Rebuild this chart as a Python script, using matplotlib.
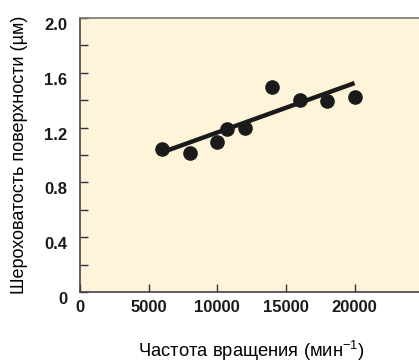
import matplotlib
matplotlib.use("Agg")
import matplotlib.pyplot as plt
from matplotlib.ticker import MultipleLocator
from matplotlib.transforms import ScaledTranslation

plt.rcParams['font.family'] = ['Liberation Sans', 'DejaVu Sans']

speed = [6000, 8000, 10000, 10700, 12000, 14000, 16000, 18000, 20000]
roughness = [1.045, 1.015, 1.095, 1.19, 1.20, 1.50, 1.40, 1.395, 1.425]
fit_x = [6000, 20000]
fit_y = [1.02, 1.525]
xticks = [0, 5000, 10000, 15000, 20000]
yticks = [0, 0.4, 0.8, 1.2, 1.6, 2.0]
yticklabels = ['0', '0.4', '0.8', '1.2', '1.6', '2.0']

fig = plt.figure(figsize=(4.19, 3.63), dpi=100)
ax = fig.add_axes([80/419, 1 - 292/363, 1 - 80/419 + 0.01, (292 - 18)/363])
ax.set_facecolor('#FEF4DA')

ax.plot(fit_x, fit_y, color='#1a1a1a', lw=3.2, solid_capstyle='butt', zorder=2)
ax.plot(speed, roughness, 'o', color='#1a1a1a', ms=9.5, zorder=3)

ax.set_xlim(0, 25000)
ax.set_ylim(0, 2.0)
ax.set_xticks(xticks)
ax.set_xticklabels([str(t) for t in xticks])
ax.set_yticks(yticks)
ax.set_yticklabels(yticklabels)
ax.yaxis.set_minor_locator(MultipleLocator(0.2))

ax.tick_params(axis='both', which='both', direction='in', colors='#333333',
               labelcolor='#1a1a1a')
ax.tick_params(axis='both', which='major', length=6, width=1, labelsize=12)
ax.tick_params(axis='y', which='minor', length=6, width=1)
ax.tick_params(axis='y', which='major', pad=9)
ax.tick_params(axis='x', which='major', pad=6)
off = ScaledTranslation(0, -6/100, fig.dpi_scale_trans)
for lab in ax.get_xticklabels() + ax.get_yticklabels():
    lab.set_fontweight('bold')
for lab in ax.get_yticklabels():
    lab.set_transform(lab.get_transform() + off)
ax.spines['right'].set_visible(False)
for s in ['left', 'bottom']:
    ax.spines[s].set_color('#444444')
    ax.spines[s].set_linewidth(1.2)
ax.spines['top'].set_color('#777777')
ax.spines['top'].set_linewidth(1.2)

ax.set_xlabel('Частота вращения (мин$^{\\mathregular{-1}}$)', fontsize=13.2, labelpad=17)
ax.set_ylabel('Шероховатость поверхности (µм)', fontsize=13, labelpad=12)

fig.savefig('out.png', dpi=100)
